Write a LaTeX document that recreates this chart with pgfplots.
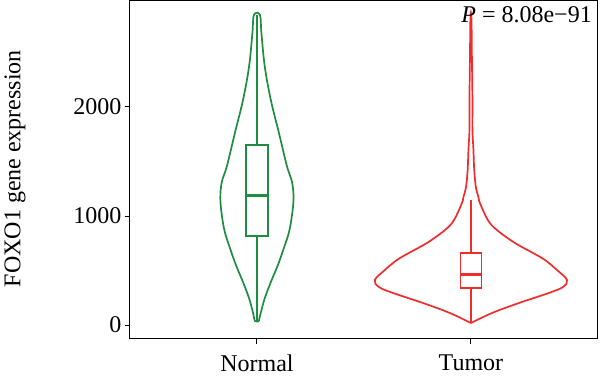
\documentclass[border=0pt]{standalone}
\usepackage{fontspec}
\setmainfont{Liberation Serif}
\usepackage{pgfplots}
\pgfplotsset{compat=1.18}
\definecolor{vgreen}{RGB}{30,140,65}
\definecolor{vred}{RGB}{238,45,45}
\begin{document}
\begin{tikzpicture}
\begin{axis}[
 scale only axis, width=467pt, height=338pt,
 xmin=0.407, xmax=2.589, ymin=-128, ymax=2972,
 xtick={1,2}, xticklabels={Normal,Tumor},
 ytick={0,1000,2000},
 tick align=outside, tick pos=left,
 major tick length=5pt,
 axis line style={line width=1pt},
 every tick/.style={black, line width=1pt},
 tick label style={font=\fontsize{24}{28}\selectfont},
 xticklabel style={yshift=-7pt},
 /pgf/number format/assume math mode=true,
 /pgf/number format/1000 sep={},
 ylabel={FOXO1 gene expression},
 ylabel style={font=\fontsize{24}{28}\selectfont, at={(axis description cs:-0.246,0.504)}, anchor=center},
 clip=false,
]
% Normal violin
\addplot[vgreen, line width=1.7pt, smooth, tension=0.6] coordinates {
(1.009,37) (1.019,119) (1.037,248) (1.065,394) (1.098,550) (1.126,706) (1.150,853) (1.164,1009) (1.171,1165) (1.164,1312) (1.140,1459) (1.103,1761) (1.065,2064) (1.037,2367) (1.021,2679) (1.014,2844)
(0.986,2844) (0.979,2679) (0.963,2367) (0.935,2064) (0.897,1761) (0.860,1459) (0.836,1312) (0.829,1165) (0.836,1009) (0.850,853) (0.874,706) (0.902,550) (0.935,394) (0.963,248) (0.981,119) (0.991,37) (1.009,37)
};
% Normal box
\addplot[vgreen, line width=1.7pt] coordinates {(1,37) (1,818)};
\addplot[vgreen, line width=1.7pt] coordinates {(1,1651) (1,2844)};
\addplot[vgreen, line width=1.7pt] coordinates {(0.949,818) (1.051,818) (1.051,1651) (0.949,1651) (0.949,818) (1.051,818)};
\addplot[vgreen, line width=3pt] coordinates {(0.949,1187) (1.051,1187)};
% Tumor violin
\addplot[vred, line width=1.7pt, smooth, tension=0.6] coordinates {
(2,18) (2.098,110) (2.224,202) (2.364,294) (2.430,349) (2.449,413) (2.402,505) (2.346,596) (2.290,661) (2.206,752) (2.121,872) (2.079,963) (2.042,1119) (2.035,1174) (2.023,1266) (2.0154,1422) (2.0117,1606) (2.007,1789) (2.007,2064) (2.0047,2431) (2.0023,2817)
(1.9977,2817) (1.9953,2431) (1.993,2064) (1.993,1789) (1.9883,1606) (1.9846,1422) (1.977,1266) (1.965,1174) (1.958,1119) (1.921,963) (1.879,872) (1.794,752) (1.710,661) (1.654,596) (1.598,505) (1.551,413) (1.570,349) (1.636,294) (1.776,202) (1.902,110) (2,18)
};
% Tumor box
\addplot[vred, line width=1.7pt] coordinates {(2,18) (2,342)};
\addplot[vred, line width=1.7pt] coordinates {(2,663) (2,1147)};
\addplot[vred, line width=1.7pt] coordinates {(1.951,342) (2.049,342) (2.049,663) (1.951,663) (1.951,342) (2.049,342)};
\addplot[vred, line width=3pt] coordinates {(1.951,468) (2.049,468)};
\node[anchor=north east, font=\fontsize{24}{28}\selectfont, inner sep=2pt, xshift=-3pt, yshift=-3pt] at (rel axis cs:1,1) {\textit{P} = 8.08e−91};
\end{axis}
\path (current axis.south west) ++(-130pt,-45pt);
\path (current axis.north east) ++(3pt,1pt);
\end{tikzpicture}
\end{document}
